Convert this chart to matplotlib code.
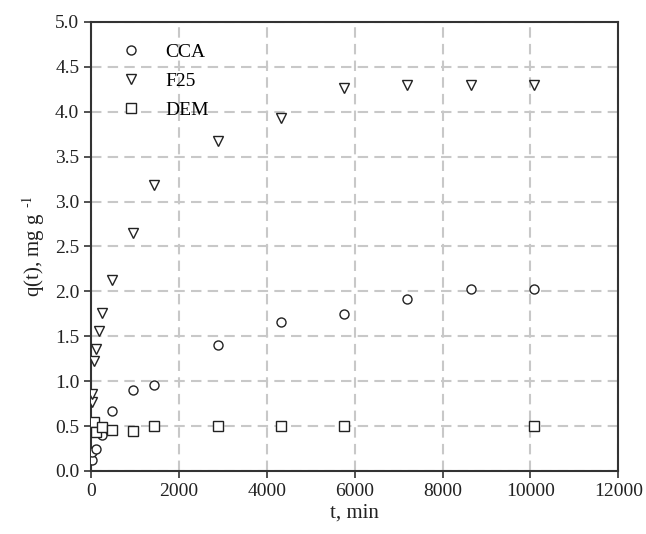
import numpy as np
import matplotlib.pyplot as plt

plt.rcParams['font.family'] = ['Liberation Serif', 'DejaVu Serif']
plt.rcParams['mathtext.fontset'] = 'stix'

# dati
t_cca = [15, 30, 120, 240, 480, 960, 1440, 2880, 4320, 5760, 7200, 8640, 10080]
q_cca = [0.12, 0.21, 0.24, 0.40, 0.67, 0.90, 0.96, 1.40, 1.66, 1.75, 1.92, 2.03, 2.03]

t_f25 = [15, 30, 60, 120, 180, 240, 480, 960, 1440, 2880, 4320, 5760, 7200, 8640, 10080]
q_f25 = [0.77, 0.86, 1.22, 1.36, 1.56, 1.76, 2.13, 2.65, 3.18, 3.67, 3.93, 4.26, 4.30, 4.30, 4.30]

t_dem = [15, 60, 120, 240, 480, 960, 1440, 2880, 4320, 5760, 10080]
q_dem = [0.52, 0.55, 0.43, 0.49, 0.46, 0.44, 0.50, 0.50, 0.50, 0.50, 0.50]

fig = plt.figure(figsize=(6.46, 5.34), dpi=100)
ax = fig.add_axes([0.141, 0.118, 0.816, 0.841])

ax.grid(True, color='#c8c8c8', linewidth=1.5, linestyle=(0, (5, 3)))
ax.set_axisbelow(True)

kw = dict(linestyle='none', markerfacecolor='white', markeredgecolor='#222222',
          markeredgewidth=1.0, zorder=3)
ax.plot(t_cca, q_cca, marker='o', markersize=6.5, label='CCA', **kw)
ax.plot(t_f25, q_f25, marker='v', markersize=7, label='F25', **kw)
ax.plot(t_dem, q_dem, marker='s', markersize=6.5, label='DEM', **kw)

ax.set_xlim(0, 12000)
ax.set_ylim(0, 5)
ax.set_xticks(np.arange(0, 12001, 2000))
ax.set_yticks(np.arange(0, 5.01, 0.5))
ax.set_yticklabels([f'{v:.1f}' for v in np.arange(0, 5.01, 0.5)])

for s in ax.spines.values():
    s.set_color('#333333')
    s.set_linewidth(1.5)
ax.tick_params(direction='out', length=5, width=1.2, color='#333333',
               labelsize=14, labelcolor='#222222')

ax.set_xlabel('t, min', fontsize=15, color='#222222', labelpad=3)
ax.set_ylabel(r'q(t), mg g$^{\;\;\text{-1}}$', fontsize=15, color='#222222', labelpad=6)

ax.legend(loc='upper left', frameon=False, fontsize=14, handlelength=1.0,
          handletextpad=1.25, labelspacing=0.6, borderaxespad=0, borderpad=0,
          bbox_to_anchor=(0.0575, 0.953))

fig.savefig('out.png', dpi=100)
